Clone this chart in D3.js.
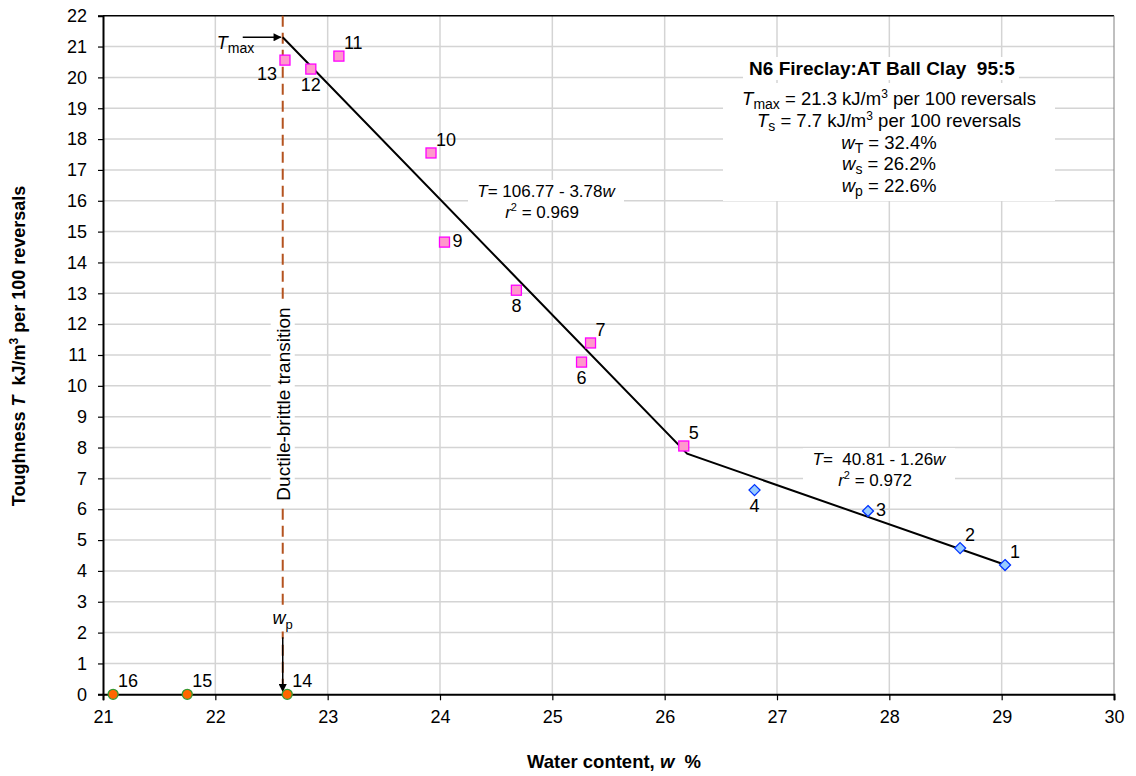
<!DOCTYPE html>
<html><head><meta charset="utf-8">
<script src="https://cdn.jsdelivr.net/npm/d3@7"></script>
<style>
body{margin:0;background:#fff;}
text{font-family:"Liberation Sans",Arial,sans-serif;}
</style></head>
<body><svg id="c" width="1136" height="776"></svg>
<script>
// ---- data ----
const pinkIds = [5,6,7,8,9,10,11,12,13];
const pinkW   = [26.17,25.26,25.34,24.68,24.04,23.92,23.10,22.85,22.62];
const pinkT   = [8.05,10.77,11.39,13.10,14.66,17.55,20.69,20.27,20.56];
const pinkLab = ['ne','s','ne','s','e','ne','ne','s','w'];

const blueIds = [1,2,3,4];
const blueW   = [29.03,28.63,27.81,26.80];
const blueT   = [4.19,4.74,5.94,6.62];
const blueLab = ['ne','ne','e','s'];

const greenIds = [14,15,16];
const greenW   = [22.64,21.75,21.09];
const greenT   = [0,0,0];
const greenLab = ['ne','ne','ne'];

const fitW = [22.6,26.2,29.03];
const fitT = [21.3,7.8,4.2];

const wp = 22.6, Tmax = 21.3;
const xTicks = [21,22,23,24,25,26,27,28,29,30];
const yTicks = d3.range(0,23);

// ---- layout ----
const svg = d3.select('#c');
const L=103,R=1114,T0=15.7,B=694.3;
const x = d3.scaleLinear().domain([21,30]).range([L,R]);
const y = d3.scaleLinear().domain([0,22]).range([B,T0]);
const FS = 18;

// grid
const g = svg.append('g');
g.selectAll('.gx').data(xTicks.slice(1,-1)).join('line')
 .attr('x1',d=>x(d)).attr('x2',d=>x(d)).attr('y1',T0).attr('y2',B)
 .attr('stroke','#d4d4d4').attr('stroke-width',1.5);
g.selectAll('.gy').data(yTicks.slice(1,-1)).join('line')
 .attr('x1',L).attr('x2',R).attr('y1',d=>y(d)).attr('y2',d=>y(d))
 .attr('stroke','#d4d4d4').attr('stroke-width',1.5);
// borders
svg.append('line').attr('x1',L).attr('x2',R).attr('y1',T0).attr('y2',T0).attr('stroke','#000').attr('stroke-width',1.5);
svg.append('line').attr('x1',R).attr('x2',R).attr('y1',T0).attr('y2',B).attr('stroke','#808080').attr('stroke-width',1);

// axes
const xa = svg.append('g').attr('transform',`translate(0,${B})`)
 .call(d3.axisBottom(x).tickValues(xTicks).tickSize(6).tickFormat(d3.format('d')));
const ya = svg.append('g').attr('transform',`translate(${L},0)`)
 .call(d3.axisLeft(y).tickValues(yTicks).tickSize(5).tickFormat(d3.format('d')));
[xa,ya].forEach(a=>{
  a.select('.domain').attr('stroke','#000').attr('stroke-width',2);
  a.selectAll('.tick line').attr('stroke','#000').attr('stroke-width',1.2);
  a.selectAll('.tick text').attr('font-size',FS).attr('fill','#000')
   .attr('font-family','"Liberation Sans",Arial,sans-serif');
});
xa.selectAll('.tick text').attr('y',12).attr('dy','0.95em');
ya.selectAll('.tick text').attr('x',-16);

// dashed transition line
svg.append('line').attr('x1',x(wp)).attr('x2',x(wp)).attr('y1',T0).attr('y2',B-4)
 .attr('stroke','#b4531f').attr('stroke-width',2).attr('stroke-dasharray','11,6');

// rotated label with white background
const dbX = x(wp), dbY = 404;
const dbg = svg.append('g').attr('transform',`translate(${dbX},${dbY}) rotate(-90)`);
dbg.append('rect').attr('x',-104).attr('y',-12).attr('width',208).attr('height',24).attr('fill','#fff');
dbg.append('text').attr('text-anchor','middle').attr('dy','0.36em').attr('font-size',19).text('Ductile-brittle transition');

// arrowhead
svg.append('defs').html('<marker id="ah2" viewBox="0 0 10 10" refX="9" refY="5" markerWidth="16" markerHeight="8" markerUnits="userSpaceOnUse" orient="auto"><path d="M0,0L10,5L0,10z" fill="#000"/></marker>');

// wp label + arrow
svg.append('rect').attr('x',x(wp)-14).attr('y',y(2.75)).attr('width',28).attr('height',22).attr('fill','#fff');
const wpT = svg.append('text').attr('x',x(wp)).attr('y',y(2.75)+15).attr('text-anchor','middle').attr('font-size',FS);
wpT.append('tspan').attr('font-style','italic').text('w');
wpT.append('tspan').attr('font-size',13).attr('dy',5).text('p');
svg.append('line').attr('x1',x(wp)).attr('x2',x(wp)).attr('y1',y(1.85)).attr('y2',y(0)-3)
 .attr('stroke','#000').attr('stroke-width',1.5).attr('marker-end','url(#ah2)');

// Tmax arrow + label
svg.append('line').attr('x1',x(wp)-40).attr('x2',x(wp)-2).attr('y1',y(Tmax)).attr('y2',y(Tmax))
 .attr('stroke','#000').attr('stroke-width',1.5).attr('marker-end','url(#ah2)');
const tmT = svg.append('text').attr('x',x(wp)-66).attr('y',y(Tmax)+12).attr('font-size',FS);
tmT.append('tspan').attr('font-style','italic').text('T');
tmT.append('tspan').attr('font-size',14).attr('dy',4).text('max');

// fit line
svg.append('path').datum(fitW.map((w,i)=>[w,fitT[i]]))
 .attr('d',d3.line().x(d=>x(d[0])).y(d=>y(d[1])))
 .attr('fill','none').attr('stroke','#000').attr('stroke-width',2);

// markers
const pink = pinkW.map((w,i)=>({w,t:pinkT[i],id:pinkIds[i],lp:pinkLab[i]}));
const blue = blueW.map((w,i)=>({w,t:blueT[i],id:blueIds[i],lp:blueLab[i]}));
const green = greenW.map((w,i)=>({w,t:greenT[i],id:greenIds[i],lp:greenLab[i]}));

svg.selectAll('.pk').data(pink).join('rect')
 .attr('x',d=>x(d.w)-5).attr('y',d=>y(d.t)-5).attr('width',10).attr('height',10)
 .attr('fill','#ff99cc').attr('stroke','#ff00ff').attr('stroke-width',1.3);
svg.selectAll('.bl').data(blue).join('path')
 .attr('d',d=>`M${x(d.w)},${y(d.t)-5.5}L${x(d.w)+5.5},${y(d.t)}L${x(d.w)},${y(d.t)+5.5}L${x(d.w)-5.5},${y(d.t)}Z`)
 .attr('fill','#99ccff').attr('stroke','#0033ff').attr('stroke-width',1.3);
svg.selectAll('.gr').data(green).join('circle')
 .attr('cx',d=>x(d.w)).attr('cy',d=>y(d.t)).attr('r',5)
 .attr('fill','#ff6600').attr('stroke','#339933').attr('stroke-width',1.3);

// point labels
const off = {ne:[5,-7,'start'], e:[8,5,'start'], s:[0,22,'middle'], w:[-8,20,'end']};
svg.selectAll('.pl').data([...blue,...pink,...green]).join('text')
 .attr('x',d=>x(d.w)+off[d.lp][0]).attr('y',d=>y(d.t)+off[d.lp][1])
 .attr('text-anchor',d=>off[d.lp][2]).attr('font-size',FS).text(d=>d.id);

// equation boxes
function eqBox(cx, cy, a, b, r2, w){
  svg.append('rect').attr('x',cx-w/2).attr('y',cy-12).attr('width',w).attr('height',40).attr('fill','#fff');
  const t1 = svg.append('text').attr('x',cx).attr('y',cy+5).attr('text-anchor','middle').attr('font-size',17).attr('xml:space','preserve');
  t1.append('tspan').attr('font-style','italic').text('T');
  t1.append('tspan').text(`= ${a} - ${b}`);
  t1.append('tspan').attr('font-style','italic').text('w');
  const t2 = svg.append('text').attr('x',cx-4).attr('y',cy+26).attr('text-anchor','middle').attr('font-size',17);
  t2.append('tspan').attr('font-style','italic').text('r');
  t2.append('tspan').attr('font-size',11).attr('dy',-7).text('2');
  t2.append('tspan').attr('dy',7).text(' = '+r2);
}
eqBox(546, 192, '106.77', '3.78', '0.969', 156);
eqBox(879, 460, ' 40.81', '1.26', '0.972', 152);

// info box
svg.append('rect').attr('x',743).attr('y',57).attr('width',276).attr('height',23).attr('fill','#fff');
svg.append('rect').attr('x',723).attr('y',83).attr('width',332).attr('height',118).attr('fill','#fff');
svg.append('text').attr('x',882).attr('y',75).attr('text-anchor','middle').attr('font-size',19).attr('font-weight','bold')
 .attr('xml:space','preserve').text('N6 Fireclay:AT Ball Clay  95:5');
const info = [
 ['T','max',' = 21.3 kJ/m','3',' per 100 reversals'],
 ['T','s',' = 7.7 kJ/m','3',' per 100 reversals'],
 ['w','T',' = 32.4%'],
 ['w','s',' = 26.2%'],
 ['w','p',' = 22.6%']
];
info.forEach((r,i)=>{
  const t = svg.append('text').attr('x',889).attr('y',105+i*21.8).attr('text-anchor','middle').attr('font-size',18.5);
  t.append('tspan').attr('font-style','italic').text(r[0]);
  t.append('tspan').attr('font-size',14).attr('dy',4).text(r[1]);
  t.append('tspan').attr('dy',-4).text(r[2]);
  if(r.length>3){
    t.append('tspan').attr('font-size',12).attr('dy',-7).text(r[3]);
    t.append('tspan').attr('dy',7).text(r[4]);
  }
});

// axis titles
const xt = svg.append('text').attr('x',614).attr('y',768).attr('text-anchor','middle').attr('font-size',18.5).attr('font-weight','bold').attr('xml:space','preserve');
xt.append('tspan').text('Water content, ');
xt.append('tspan').attr('font-style','italic').text('w');
xt.append('tspan').text('  %');
const yt = svg.append('text').attr('transform','translate(25,346) rotate(-90)').attr('text-anchor','middle').attr('font-size',18).attr('font-weight','bold').attr('xml:space','preserve');
yt.append('tspan').text('Toughness ');
yt.append('tspan').attr('font-style','italic').text('T');
yt.append('tspan').text('  kJ/m');
yt.append('tspan').attr('font-size',12).attr('dy',-7).text('3');
yt.append('tspan').attr('dy',7).text(' per 100 reversals');
</script></body></html>
